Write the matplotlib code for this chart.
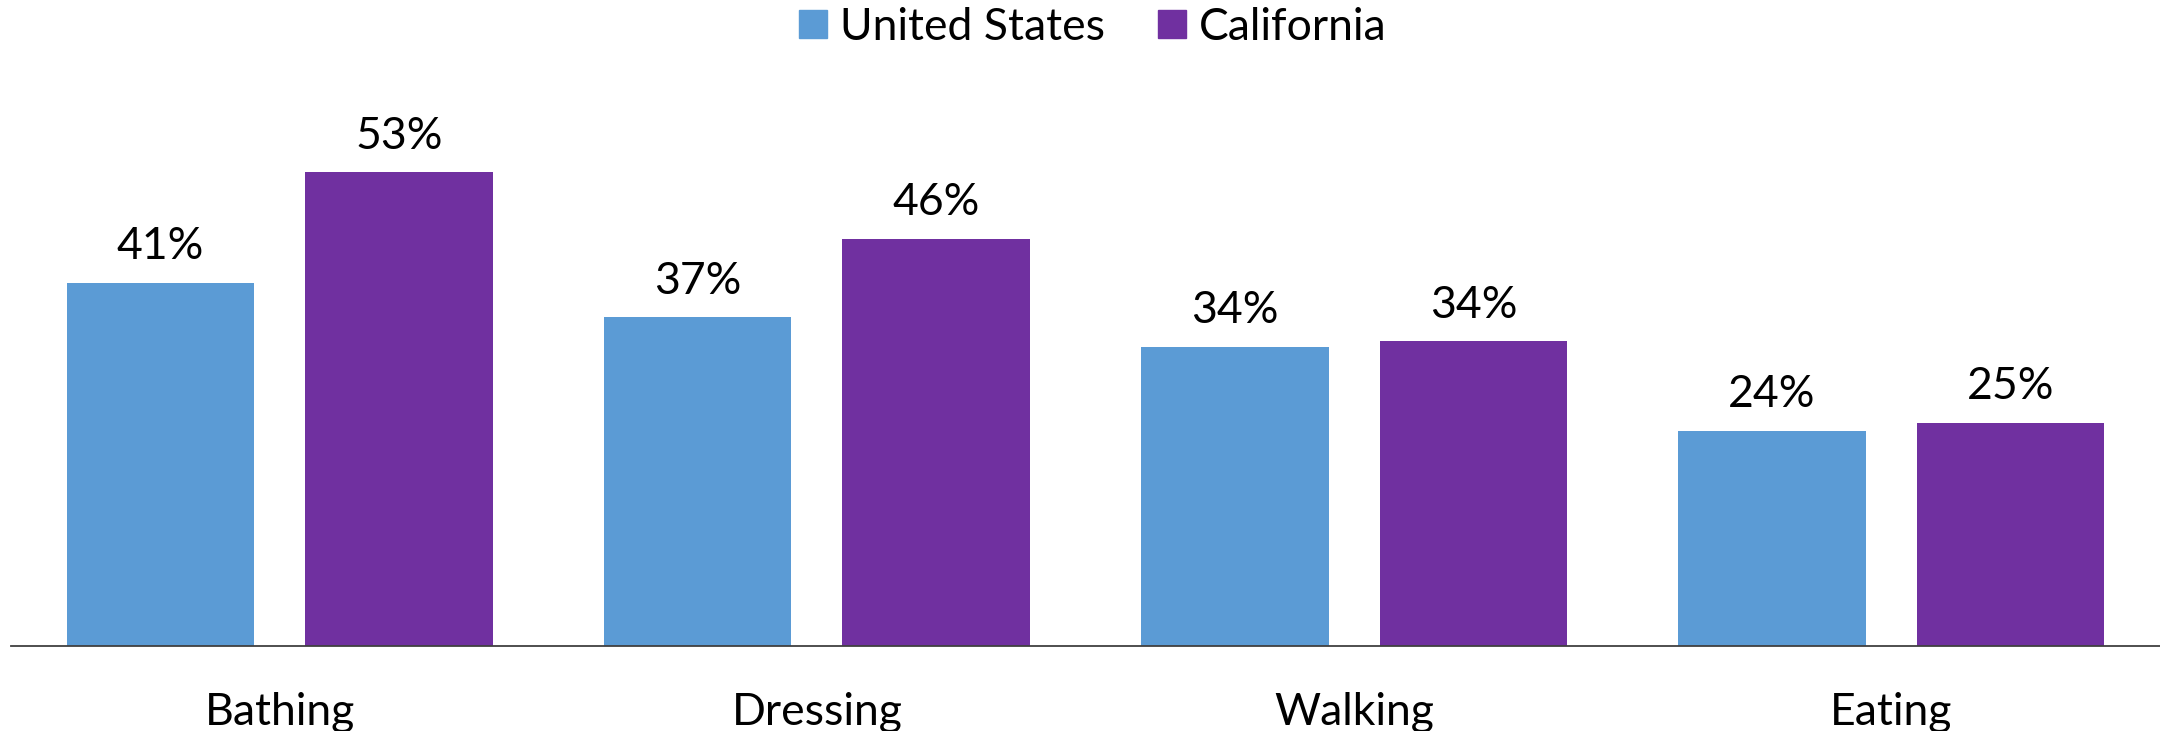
"""Grouped bars: share needing help with daily activities, US vs California."""

import matplotlib

matplotlib.use("Agg")
import matplotlib.pyplot as plt
import numpy as np
from matplotlib.lines import Line2D

CATEGORIES = ["Bathing", "Dressing", "Walking", "Eating"]
SERIES = ["United States", "California"]
US_VALUES = [40.9, 37.0, 33.7, 24.2]
CA_VALUES = [53.3, 45.8, 34.3, 25.1]
US_LABELS = ["41%", "37%", "34%", "24%"]
CA_LABELS = ["53%", "46%", "34%", "25%"]

BLUE = "#5B9BD5"
PURPLE = "#7030A0"
FONT = ["Lato", "DejaVu Sans"]
FS = 32

plt.rcParams["font.family"] = FONT


def main() -> None:
    fig = plt.figure(figsize=(21.6, 7.31), dpi=100)
    ax = fig.add_axes([11 / 2160, 85 / 731, 1 - 11 / 2160, (646 - 90) / 731])

    x = np.arange(len(CATEGORIES))
    width = 0.349
    off = width / 2 + 0.0475
    bars_us = ax.bar(x - off, US_VALUES, width, color=BLUE)
    bars_ca = ax.bar(x + off, CA_VALUES, width, color=PURPLE)

    for bars, labels in ((bars_us, US_LABELS), (bars_ca, CA_LABELS)):
        for b, lab in zip(bars, labels):
            ax.annotate(lab, (b.get_x() + b.get_width() / 2, b.get_height()),
                        xytext=(0, 17), textcoords="offset points",
                        ha="center", va="baseline", fontsize=FS, color="black")

    ax.set_xlim(-0.5, len(CATEGORIES) - 0.5)
    ax.set_ylim(0, (646 - 90) / 8.886)
    ax.set_xticks(x)
    ax.set_xticklabels(CATEGORIES, fontsize=FS)
    ax.tick_params(axis="x", length=0, pad=33)
    ax.set_yticks([])
    for side in ("top", "left", "right"):
        ax.spines[side].set_visible(False)
    ax.spines["bottom"].set_color("#404040")
    ax.spines["bottom"].set_linewidth(1.3)

    handles = [
        Line2D([], [], marker="s", linestyle="none", markersize=20, color=BLUE),
        Line2D([], [], marker="s", linestyle="none", markersize=20, color=PURPLE),
    ]
    fig.legend(handles, SERIES, loc="upper center", bbox_to_anchor=(0.505, 0.997),
               ncol=2, frameon=False, fontsize=FS, handlelength=0.8,
               handletextpad=0.2, columnspacing=1.1, borderaxespad=0.0,
               borderpad=0.1)

    fig.savefig("out.png", dpi=100)
    plt.close(fig)


if __name__ == "__main__":
    main()
